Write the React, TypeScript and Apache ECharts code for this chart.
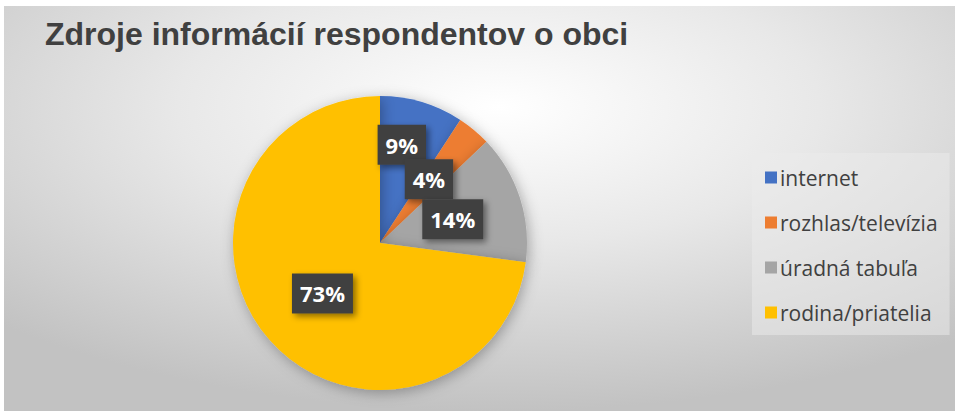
import React, { useEffect, useRef } from "react";
import * as echarts from "echarts";

const titleText = "Zdroje informácií respondentov o obci";
const categories = ["internet", "rozhlas/televízia", "úradná tabuľa", "rodina/priatelia"];
const values = [9.2, 3.7, 14.2, 72.9];
const colors = ["#4472C4", "#ED7D31", "#A5A5A5", "#FFC000"];
const labelOffsets: number[][] = [[0, -25], [0, -5], [0, 0], [0, 0]];

export default function App() {
  const ref = useRef<HTMLDivElement>(null);
  useEffect(() => {
    if (!ref.current) return;
    const chart = echarts.init(ref.current, undefined, { renderer: "svg" });
    chart.setOption({
      animation: false,
      graphic: [
        {
          type: "rect",
          z: -10,
          silent: true,
          shape: { x: 4, y: 6, width: 951, height: 405 },
          style: {
            fill: new echarts.graphic.RadialGradient(0.52, 0.25, 0.75, [
              { offset: 0, color: "#ffffff" },
              { offset: 0.45, color: "#e8e8e8" },
              { offset: 1, color: "#c2c2c2" },
            ]),
          },
        },
      ],
      title: {
        text: titleText,
        left: 45,
        top: 18,
        padding: 0,
        textStyle: {
          fontFamily: "'Liberation Sans', Arial, sans-serif",
          fontWeight: "bold",
          fontSize: 32,
          color: "#404040",
        },
      },
      legend: {
        orient: "vertical",
        left: 752,
        top: 153,
        padding: [14, 12, 12, 13],
        backgroundColor: "rgba(235,235,235,0.5)",
        icon: "rect",
        itemWidth: 12,
        itemHeight: 12,
        itemGap: 24,
        data: categories,
        textStyle: {
          fontFamily: "'Open Sans', sans-serif",
          fontSize: 21,
          lineHeight: 21,
          color: "#404040",
          padding: [0, 0, 0, -2],
        },
      },
      series: [
        {
          type: "pie",
          center: [380, 243],
          radius: 147,
          startAngle: 90,
          clockwise: true,
          avoidLabelOverlap: false,
          labelLayout: { hideOverlap: false },
          color: colors,
          itemStyle: {
            shadowBlur: 14,
            shadowColor: "rgba(0,0,0,0.3)",
            shadowOffsetX: 2,
            shadowOffsetY: 3,
          },
          label: {
            show: true,
            position: "inside",
            formatter: (p: any) => Math.round(p.percent) + "%",
            fontFamily: "'Open Sans', sans-serif",
            fontWeight: "bold",
            fontSize: 22,
            color: "#ffffff",
            backgroundColor: "#404040",
            padding: [9, 8, 9, 8],
            shadowColor: "rgba(0,0,0,0.45)",
            shadowBlur: 6,
            shadowOffsetX: 3,
            shadowOffsetY: 3,
          },
          labelLine: { show: false },
          data: categories.map((name, i) => ({
            name,
            value: values[i],
            label: { offset: labelOffsets[i] },
          })),
        },
      ],
    });
    return () => chart.dispose();
  }, []);
  return (
    <div
      ref={ref}
      style={{ position: "fixed", left: 0, top: 0, width: 959, height: 411, background: "#ffffff" }}
    />
  );
}
